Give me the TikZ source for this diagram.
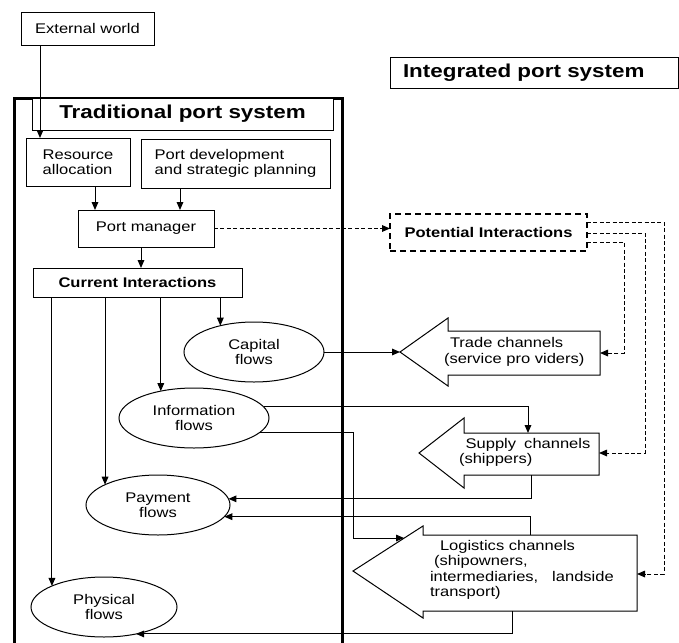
\documentclass[tikz,border=0pt]{standalone}
\usepackage{fontspec}
\setmainfont{Liberation Sans}[FakeStretch=1.18]
\newfontfamily\titlefont{Liberation Sans}[FakeStretch=1.2]
\usetikzlibrary{arrows.meta,shapes.geometric,calc}
\begin{document}
\begin{tikzpicture}[x=0.75pt,y=-0.75pt,
  every node/.style={font=\fontsize{10.5}{11.5}\selectfont, inner sep=0pt, outer sep=0pt},
  box/.style={draw, line width=0.75pt, fill=white},
  oval/.style={ellipse, draw, line width=0.75pt, align=center},
  arr/.style={line width=0.75pt, -{Triangle[length=6pt,width=5pt]}},
  darr/.style={arr, dash pattern=on 3pt off 1.8pt},
  blk/.style={draw, line width=0.75pt, fill=white, line join=miter},
  ttl/.style={font=\titlefont\bfseries\fontsize{14}{16}\selectfont},
  bld/.style={font=\bfseries\fontsize{10.5}{12}\selectfont}]
\useasboundingbox (0,0) rectangle (679,643);

% frame of the traditional port system
\draw[line width=2.25pt] (14,648) -- (14,98) -- (342,98) -- (342,648);

% boxes
\node[box, minimum width=99.75pt, minimum height=24.75pt] (ew) at (87.5,28.5) {External world};
\node[box, ttl, minimum width=225.75pt, minimum height=24pt] (tps) at (182.5,114) {Traditional port system};
\node[box, align=left, minimum width=78pt, minimum height=36pt] (ra) at (78,162) {Resource\\allocation};
\node[box, align=left, minimum width=141.75pt, minimum height=36.75pt] (pd) at (235.5,163.5) {Port development\\and strategic planning};
\node[box, minimum width=102pt, minimum height=27.75pt] (pm) at (146,228.5) {Port manager};
\node[box, bld, minimum width=156.75pt, minimum height=21.75pt] (ci) at (137.5,282.5) {Current Interactions};
\node[box, ttl, anchor=west, minimum height=23.25pt, inner xsep=9.75pt, text width=196.5pt, align=left] (ips) at (390,72.5) {Integrated port system};
\node[bld, draw, line width=1pt, dash pattern=on 4.5pt off 3pt, minimum width=147.75pt, minimum height=27.75pt] (pi) at (488.5,232.5) {Potential Interactions};

% ellipses
\node[oval, minimum width=105pt, minimum height=45pt] (cap) at (254,352) {Capital\\flows};
\node[oval, minimum width=112.5pt, minimum height=45pt] (info) at (194,418) {Information\\flows};
\node[oval, minimum width=108pt, minimum height=45pt] (pay) at (158,505) {Payment\\flows};
\node[oval, minimum width=109.5pt, minimum height=45pt] (phys) at (104,607) {Physical\\flows};

% block arrows (channels)
\draw[blk] (400,352) -- (448,318) -- (448,331) -- (600,331) -- (600,375) -- (448,375) -- (448,386) -- cycle;
\draw[blk] (419,453) -- (464,418) -- (464,433) -- (599,433) -- (599,475) -- (464,475) -- (464,488) -- cycle;
\draw[blk] (353,571) -- (423,526) -- (423,535) -- (637,535) -- (637,611) -- (423,611) -- (423,618) -- cycle;
\node[anchor=west, align=left] (ttxt) at (444,352) {\hspace*{4.5pt}Trade channels\\(service pro viders)};
\node[anchor=west, align=left] (stxt) at (459,452.5) {\hspace*{5pt}Supply\hspace{0.25em} channels\\(shippers)};
\node[anchor=west, align=left] (ltxt) at (430,570) {\hspace*{7.5pt}Logistics channels\\\hspace*{3pt}(shipowners,\\intermediaries, \hspace{7pt}landside\\transport)};

% connection points on the channels
\coordinate (ttip) at (400,352);
\coordinate (tright) at (600,353);
\coordinate (stop) at (528,433);
\coordinate (sbot) at (531,475);
\coordinate (sright) at (599,453);
\coordinate (lbend) at (353,538);
\coordinate (lhead) at (404,538);
\coordinate (ltop) at (530,535);
\coordinate (lbot) at (512,611);
\coordinate (lright) at (637,574);
\coordinate (ewo) at ($(ew.south west)+(19,0)$);
\coordinate (p1) at ($(pi.north east)+(0,8)$);
\coordinate (p2) at ($(pi.north east)+(0,19)$);
\coordinate (p3) at ($(pi.north east)+(0,28)$);

% connectors
\draw[arr] (ewo) -- (ewo |- ra.north);
\draw[arr] (ra.south -| 95,0) -- (pm.north -| 95,0);
\draw[arr] (pd.south -| 180,0) -- (pm.north -| 180,0);
\draw[arr] (pm.south -| 141,0) -- (ci.north -| 141,0);
\draw[darr] (pm.east) -- (pm.east -| pi.west);

\draw[arr] (ci.south -| cap.142) -- (cap.142);
\draw[arr] (ci.south -| info.141) -- (info.141);
\draw[arr] (ci.south -| pay.159) -- (pay.159);
\draw[arr] (ci.south -| phys.158) -- (phys.158);

\draw[arr] (cap.east) -- (ttip);
\draw[arr] (info.9) -| (stop);
\draw[arr] (info.-12) -| (lbend) -- (lhead);
\draw[arr] (sbot) |- (pay.5);
\draw[arr] (ltop) |- (pay.-10);
\draw[arr] (lbot) |- (phys.-40);

\draw[darr] (p1) -| ($(lright)+(27,0)$) -- (lright);
\draw[darr] (p2) -| ($(sright)+(46,0)$) -- (sright);
\draw[darr] (p3) -| ($(tright)+(24,0)$) -- (tright);
\end{tikzpicture}
\end{document}
